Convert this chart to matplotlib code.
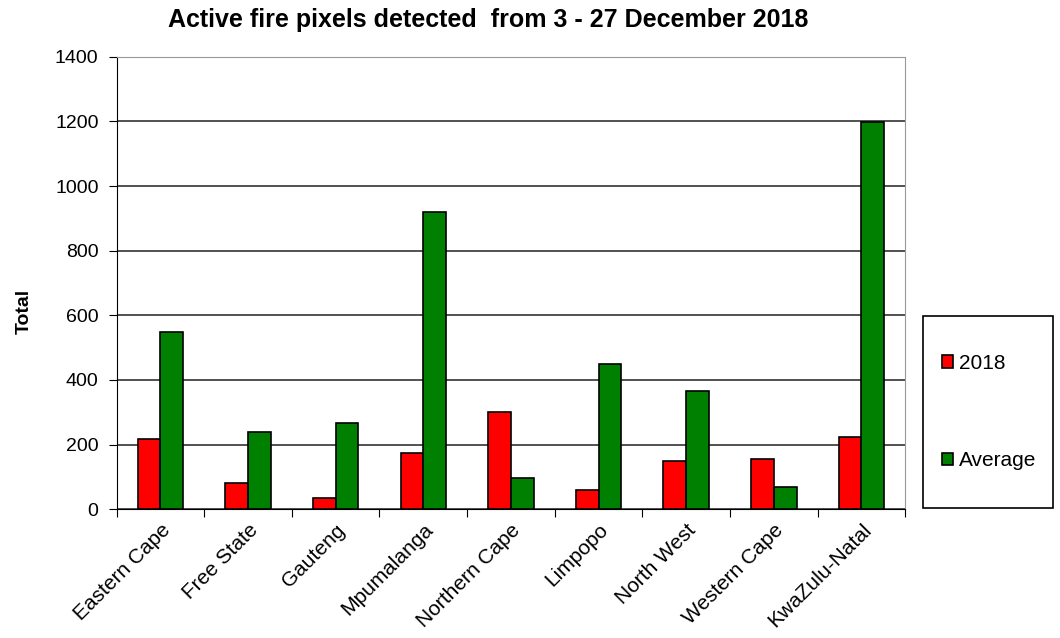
import numpy as np
import matplotlib.pyplot as plt
from matplotlib.patches import Rectangle

plt.rcParams['font.family'] = ['Liberation Sans', 'DejaVu Sans']

# values
provinces = ['Eastern Cape', 'Free State', 'Gauteng', 'Mpumalanga', 'Northern Cape',
             'Limpopo', 'North West', 'Western Cape', 'KwaZulu-Natal']
fires_2018 = [217, 81, 34, 175, 300, 60, 150, 156, 222]
fires_avg = [548, 238, 267, 921, 97, 450, 366, 68, 1198]

fig = plt.figure(figsize=(10.6, 6.38), dpi=100)
ax = fig.add_axes([0.110, 0.202, 0.744, 0.709])

x = np.arange(len(provinces))
w = 0.26
ax.bar(x - w / 2, fires_2018, w, color='#ff0000', edgecolor='black', linewidth=1.2,
       label='2018', zorder=3)
ax.bar(x + w / 2, fires_avg, w, color='#008000', edgecolor='black', linewidth=1.2,
       label='Average', zorder=3)

ax.set_xlim(-0.5, len(provinces) - 0.5)
ax.set_ylim(0, 1400)
ax.set_yticks(np.arange(0, 1401, 200))
ax.yaxis.grid(True, color='#333333', linewidth=1.2, zorder=0)
ax.tick_params(axis='y', labelsize=14, length=6, direction='out', color='black', pad=7)

# category ticks sit between the groups, labels under the groups
ax.set_xticks(np.arange(len(provinces) + 1) - 0.5)
ax.set_xticklabels([])
ax.set_xticks(x, minor=True)
ax.set_xticklabels(provinces, minor=True, rotation=45, ha='right', rotation_mode='anchor',
                   fontsize=15)
ax.tick_params(axis='x', which='major', length=6, color='black')
ax.tick_params(axis='x', which='minor', length=0, pad=8)

for s in ['top', 'right']:
    ax.spines[s].set_color('#999999')
for s in ['left', 'bottom']:
    ax.spines[s].set_color('black')

ax.set_ylabel('Total', fontsize=14, fontweight='bold')
ax.yaxis.set_label_coords(-0.106, 0.438)
fig.text(0.461, 0.968, 'Active fire pixels detected  from 3 - 27 December 2018',
         ha='center', va='center', fontsize=18, fontweight='bold')

# legend box to the right of the plot
fig.patches.append(Rectangle((0.871, 0.204), 0.122, 0.301, transform=fig.transFigure,
                             fill=False, edgecolor='black', linewidth=1.2))
fig.legend(loc='center', bbox_to_anchor=(0.933, 0.354), frameon=False, fontsize=15,
           handlelength=0.55, handleheight=0.55, handletextpad=0.25, labelspacing=3.75)

fig.savefig('out.png', dpi=100)
